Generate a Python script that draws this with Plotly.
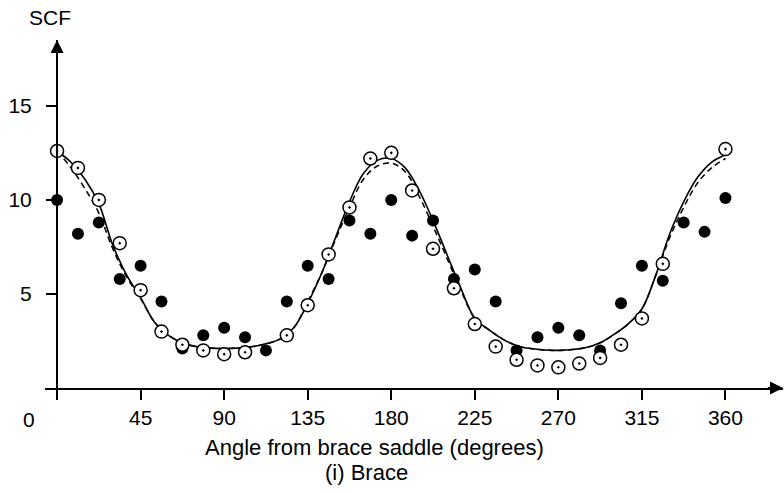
import plotly.graph_objects as go

# Filled dots (measured SCF)
filled_angle = [0, 11.25, 22.5, 33.75, 45, 56.25, 67.5, 78.75, 90, 101.25, 112.5,
                123.75, 135, 146.25, 157.5, 168.75, 180, 191.25, 202.5, 213.75, 225,
                236.25, 247.5, 258.75, 270, 281.25, 292.5, 303.75, 315, 326.25, 337.5,
                348.75, 360]
filled_scf = [10.0, 8.2, 8.8, 5.8, 6.5, 4.6, 2.1, 2.8, 3.2, 2.7, 2.0,
              4.6, 6.5, 5.8, 8.9, 8.2, 10.0, 8.1, 8.9, 5.8, 6.3,
              4.6, 2.0, 2.7, 3.2, 2.8, 2.0, 4.5, 6.5, 5.7, 8.8,
              8.3, 10.1]

# Circled dots
circ_angle = [0, 11.25, 22.5, 33.75, 45, 56.25, 67.5, 78.75, 90, 101.25,
              123.75, 135, 146.25, 157.5, 168.75, 180, 191.25, 202.5, 213.75, 225,
              236.25, 247.5, 258.75, 270, 281.25, 292.5, 303.75, 315, 326.25, 360]
circ_scf = [12.6, 11.7, 10.0, 7.7, 5.2, 3.0, 2.3, 2.0, 1.8, 1.9,
            2.8, 4.4, 7.1, 9.6, 12.2, 12.5, 10.5, 7.4, 5.3, 3.4,
            2.2, 1.5, 1.2, 1.1, 1.3, 1.6, 2.3, 3.7, 6.6, 12.7]

# Solid and dashed curves
curve_angle = [0, 7.5, 15, 22.5, 30, 37.5, 45, 52.5, 60, 67.5, 75, 90, 105, 112.5,
               120, 127.5, 135, 142.5, 150, 157.5, 165, 172.5, 180, 187.5, 195,
               202.5, 210, 217.5, 225, 232.5, 240, 247.5, 255, 270, 285, 292.5,
               300, 307.5, 315, 322.5, 330, 337.5, 345, 352.5, 360]
solid_scf = [12.6, 12.0, 11.1, 9.8, 7.6, 6.0, 4.8, 3.5, 2.8, 2.4, 2.2, 2.1, 2.2, 2.35,
             2.6, 3.2, 4.5, 6.1, 8.0, 9.9, 11.4, 12.1, 12.2, 11.7, 10.5,
             8.9, 7.1, 5.3, 3.7, 3.1, 2.6, 2.25, 2.1, 2.0, 2.15, 2.4,
             2.85, 3.4, 4.2, 6.0, 8.2, 9.9, 11.2, 12.0, 12.4]
dashed_scf = [12.6, 11.7, 10.6, 9.3, 7.4, 5.9, 4.75, 3.5, 2.8, 2.4, 2.2, 2.1, 2.2, 2.35,
              2.6, 3.2, 4.6, 6.1, 7.9, 9.6, 11.1, 11.8, 11.95, 11.5, 10.2,
              8.6, 6.9, 5.2, 3.7, 3.1, 2.6, 2.25, 2.1, 2.0, 2.15, 2.4,
              2.85, 3.4, 4.2, 6.0, 8.0, 9.6, 10.9, 11.7, 12.2]

x_ticks = [0, 45, 90, 135, 180, 225, 270, 315, 360]
x_tick_text = ["", "45", "90", "135", "180", "225", "270", "315", "360"]
y_ticks = [5, 10, 15]

FONT = "Liberation Sans, Arial, sans-serif"

fig = go.Figure()
fig.add_trace(go.Scatter(x=curve_angle, y=dashed_scf, mode="lines",
                         line=dict(color="black", width=1.5, dash="6px,4px", shape="spline", smoothing=1.0),
                         hoverinfo="skip"))
fig.add_trace(go.Scatter(x=curve_angle, y=solid_scf, mode="lines",
                         line=dict(color="black", width=1.6, shape="spline", smoothing=1.0),
                         hoverinfo="skip"))
fig.add_trace(go.Scatter(x=filled_angle, y=filled_scf, mode="markers",
                         marker=dict(symbol="circle", size=12, color="black")))
fig.add_trace(go.Scatter(x=circ_angle, y=circ_scf, mode="markers",
                         marker=dict(symbol="circle-dot", size=13, color="white",
                                     line=dict(color="black", width=1.5))))

fig.update_layout(
    width=784, height=493,
    margin=dict(l=45, r=1, t=40, b=105, autoexpand=False),
    paper_bgcolor="white", plot_bgcolor="white",
    showlegend=False,
    font=dict(family=FONT, size=21, color="black"),
    xaxis=dict(range=[-6.5, 391], showgrid=False, zeroline=False, automargin=False,
               showline=True, linecolor="black", linewidth=2,
               ticks="outside", ticklen=10, tickwidth=1.5, tickcolor="black",
               tickmode="array", tickvals=x_ticks, ticktext=x_tick_text,
               tickfont=dict(family=FONT, size=21)),
    yaxis=dict(range=[0, 18.5], showgrid=False, zeroline=False, automargin=False,
               anchor="free", position=12/738,
               showline=True, linecolor="black", linewidth=2,
               ticks="outside", ticklen=10, tickwidth=1.5, tickcolor="black",
               tickmode="array", tickvals=y_ticks, ticklabelstandoff=10,
               tickfont=dict(family=FONT, size=21)),
)

# axis arrows
fig.add_annotation(x=391, y=0, ax=382, ay=0, xref="x", yref="y", axref="x", ayref="y",
                   showarrow=True, arrowhead=2, arrowsize=1.3, arrowwidth=2, arrowcolor="black", text="")
fig.add_annotation(x=0, y=18.5, ax=0, ay=17.7, xref="x", yref="y", axref="x", ayref="y",
                   showarrow=True, arrowhead=2, arrowsize=1.3, arrowwidth=2, arrowcolor="black", text="")

# labels (paper coordinates)
def label(px, py, text, size=21):
    fig.add_annotation(x=(px - 45) / 738, y=(388 - py) / 348, xref="paper", yref="paper",
                       xanchor="center", yanchor="middle",
                       text=text, showarrow=False, font=dict(family=FONT, size=size))

label(29, 420, "0")
label(50, 18, "SCF")
label(374.5, 447, "Angle from brace saddle (degrees)", 22)
label(366.5, 472, "(i) Brace", 22)

fig.write_html("out.html", config={"displayModeBar": False},
               post_script="document.body.style.margin='0';")
